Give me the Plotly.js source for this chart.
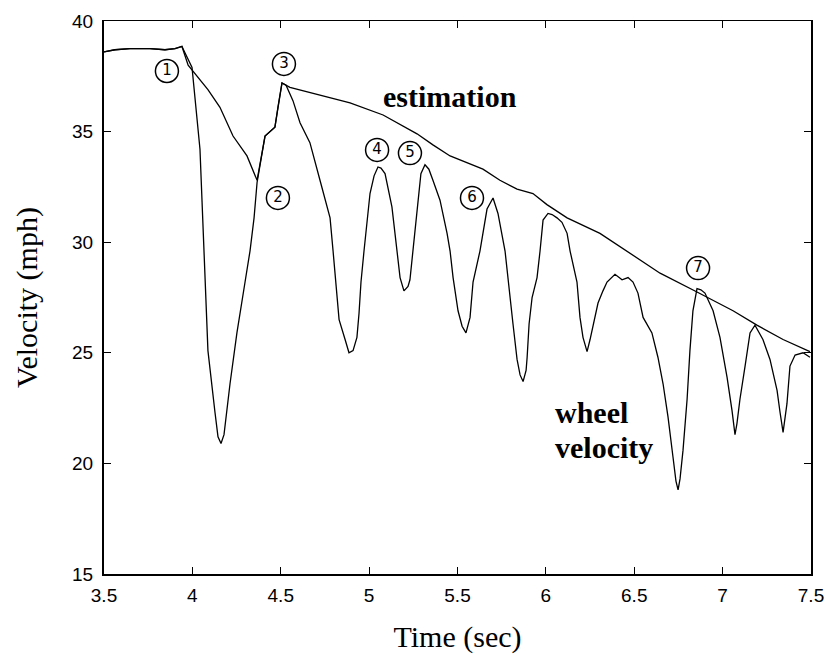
<!DOCTYPE html>
<html>
<head>
<meta charset="utf-8">
<script src="https://cdn.plot.ly/plotly-3.0.1.min.js"></script>
<style>html,body{margin:0;padding:0;background:#fff;}#chart{width:830px;height:662px;}</style>
</head>
<body>
<div id="chart"></div>
<script>
// Wheel velocity (mph) vs time (sec)
const wheelTime = [3.500,3.562,3.647,3.760,3.845,3.902,3.941,3.998,4.043,4.066,4.071,4.088,4.128,4.145,4.162,4.179,4.213,4.252,4.298,4.326,4.349,4.366,4.411,4.467,4.484,4.507,4.530,4.569,4.609,4.665,4.722,4.779,4.796,4.807,4.818,4.830,4.864,4.886,4.909,4.931,4.943,4.954,4.971,5.005,5.028,5.050,5.067,5.090,5.129,5.158,5.175,5.197,5.220,5.231,5.248,5.276,5.293,5.316,5.338,5.361,5.401,5.441,5.458,5.475,5.503,5.526,5.548,5.571,5.588,5.627,5.644,5.667,5.701,5.729,5.769,5.797,5.814,5.837,5.854,5.871,5.888,5.894,5.905,5.922,5.950,5.967,5.984,6.012,6.035,6.063,6.091,6.120,6.137,6.176,6.193,6.210,6.233,6.250,6.267,6.295,6.323,6.346,6.391,6.431,6.465,6.493,6.521,6.550,6.600,6.634,6.663,6.691,6.719,6.736,6.748,6.759,6.776,6.799,6.815,6.832,6.855,6.877,6.900,6.946,6.985,7.025,7.053,7.070,7.081,7.098,7.127,7.155,7.183,7.228,7.268,7.308,7.325,7.342,7.364,7.381,7.410,7.455,7.494];
const wheelVel = [38.6,38.7,38.75,38.75,38.7,38.75,38.85,37.9,34.2,29.6,28.2,25.1,22.3,21.2,20.9,21.3,23.6,25.9,28.2,29.6,31.1,32.7,34.8,35.2,36.1,37.2,37.1,36.4,35.4,34.5,32.8,31.1,29.6,28.6,27.4,26.5,25.6,25.0,25.1,25.7,26.8,28.2,29.6,32.2,33.0,33.4,33.35,33.1,31.6,29.6,28.4,27.8,28.0,28.3,29.6,31.9,33.1,33.5,33.3,32.8,31.9,30.4,29.6,28.4,26.9,26.2,25.9,26.6,28.2,29.6,30.5,31.5,32.0,31.3,29.6,27.4,26.3,24.7,24.0,23.7,24.2,24.8,26.3,27.5,28.4,29.6,31.0,31.3,31.25,31.1,30.9,30.4,29.6,28.2,26.6,25.7,25.05,25.6,26.2,27.25,27.8,28.2,28.55,28.3,28.4,28.2,27.7,26.6,25.9,24.8,23.6,22.1,20.3,19.2,18.8,19.3,20.6,22.9,25.1,26.9,27.9,27.85,27.7,26.9,25.7,23.9,22.4,21.3,21.8,22.9,24.4,25.9,26.25,25.6,24.7,23.3,22.3,21.4,22.7,24.4,24.9,25.0,24.8];

// Estimated vehicle velocity
const estTime = [3.500,3.562,3.647,3.760,3.845,3.902,3.941,3.976,4.088,4.156,4.230,4.309,4.366,4.411,4.467,4.484,4.507,4.552,4.705,4.892,5.079,5.271,5.361,5.458,5.644,5.740,5.837,5.927,6.006,6.120,6.306,6.459,6.646,6.855,7.059,7.194,7.342,7.494];
const estVel = [38.6,38.7,38.75,38.75,38.7,38.75,38.85,38.0,36.9,36.1,34.8,33.9,32.8,34.8,35.2,36.1,37.2,37.0,36.7,36.3,35.75,34.9,34.4,33.9,33.3,32.8,32.4,32.2,31.7,31.1,30.4,29.6,28.6,27.75,26.9,26.25,25.6,25.05];

// Numbered event markers
const markerLabels = ["1","2","3","4","5","6","7"];
const markerTime = [3.856,4.484,4.518,5.045,5.231,5.582,6.861];
const markerVel = [37.74,32.0,38.06,34.17,34.03,32.0,28.83];

// Axis ticks
const xTicks = [3.5,4,4.5,5,5.5,6,6.5,7,7.5];
const xTickText = ["3.5","4","4.5","5","5.5","6","6.5","7","7.5"];
const yTicks = [15,20,25,30,35,40];

const traces = [
  {x: wheelTime, y: wheelVel, type: 'scatter', mode: 'lines', name: 'wheel velocity',
   line: {color: '#000', width: 1.3}, hoverinfo: 'x+y'},
  {x: estTime, y: estVel, type: 'scatter', mode: 'lines', name: 'estimation',
   line: {color: '#000', width: 1.3}, hoverinfo: 'x+y'},
  {x: markerTime, y: markerVel, type: 'scatter', mode: 'markers+text', text: markerLabels,
   textposition: 'middle center', textfont: {family: 'DejaVu Sans', size: 15, color: '#000'},
   marker: {symbol: 'circle-open', size: 23, color: '#000', line: {width: 1.5, color: '#000'}},
   hoverinfo: 'skip', cliponaxis: false}
];

const layout = {
  width: 830, height: 662,
  margin: {l: 104, r: 19, t: 21, b: 88},
  paper_bgcolor: '#fff', plot_bgcolor: '#fff',
  showlegend: false,
  font: {family: 'Liberation Sans, Arial, sans-serif', color: '#000'},
  xaxis: {
    range: [3.5, 7.5], tickvals: xTicks, ticktext: xTickText,
    ticks: 'inside', ticklen: 7, tickwidth: 1, tickcolor: '#000',
    showline: true, linecolor: '#000', linewidth: 1.5, mirror: 'ticks',
    showgrid: false, zeroline: false, ticklabelstandoff: 4,
    tickfont: {family: 'Liberation Sans, Arial, sans-serif', size: 19},
    title: {text: 'Time (sec)', font: {family: 'Liberation Serif, Times New Roman, serif', size: 30}, standoff: 20}
  },
  yaxis: {
    range: [15, 40], tickvals: yTicks,
    ticks: 'inside', ticklen: 7, tickwidth: 1, tickcolor: '#000',
    showline: true, linecolor: '#000', linewidth: 2, mirror: 'ticks',
    showgrid: false, zeroline: false, ticklabelstandoff: 5,
    tickfont: {family: 'Liberation Sans, Arial, sans-serif', size: 19},
    title: {text: 'Velocity (mph)', font: {family: 'Liberation Serif, Times New Roman, serif', size: 30}, standoff: 26}
  },
  annotations: [
    {x: 5.46, y: 36.6, xref: 'x', yref: 'y', text: '<b>estimation</b>', showarrow: false,
     font: {family: 'Liberation Serif, Times New Roman, serif', size: 30, color: '#000'}},
    {x: 6.04, y: 22.3, xref: 'x', yref: 'y', text: '<b>wheel</b>', showarrow: false, xanchor: 'left',
     font: {family: 'Liberation Serif, Times New Roman, serif', size: 30, color: '#000'}},
    {x: 6.04, y: 20.7, xref: 'x', yref: 'y', text: '<b>velocity</b>', showarrow: false, xanchor: 'left',
     font: {family: 'Liberation Serif, Times New Roman, serif', size: 30, color: '#000'}}
  ]
};

Plotly.newPlot('chart', traces, layout, {displayModeBar: false, staticPlot: true});
</script>
</body>
</html>
